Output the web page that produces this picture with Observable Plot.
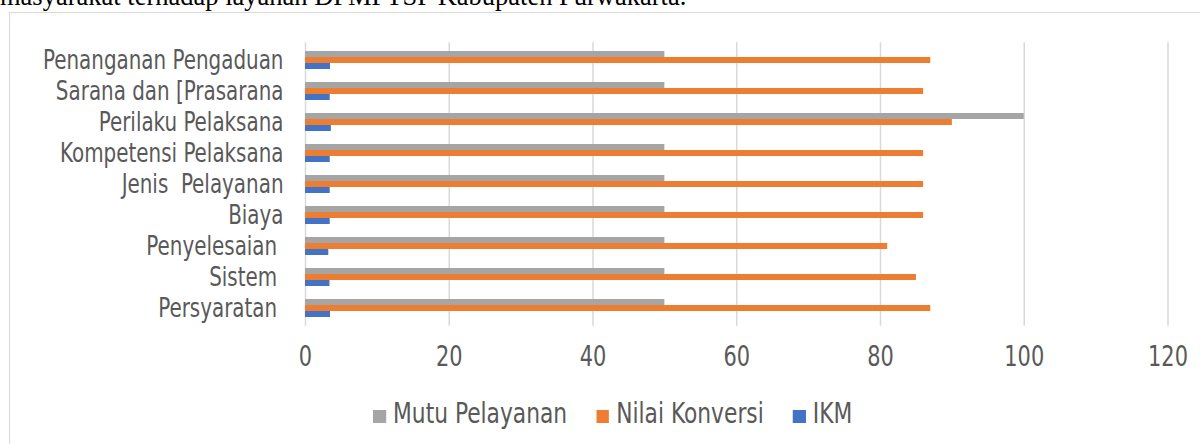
<!DOCTYPE html>
<html>
<head>
<meta charset="utf-8">
<script src="https://cdn.jsdelivr.net/npm/d3@7"></script>
<script src="https://cdn.jsdelivr.net/npm/@observablehq/plot@0.6"></script>
<style>
  html, body { margin: 0; padding: 0; background: #fff; width: 1200px; height: 444px; overflow: hidden; }
  #wrap { position: relative; width: 1200px; height: 444px; overflow: hidden; }
  #intro { position: absolute; left: 0; top: -17px; line-height: 1; font-family: "Liberation Serif", serif; font-size: 26.5px; color: #000; white-space: nowrap; }
  #frame { position: absolute; left: 9px; top: 12px; width: 1400px; height: 600px; border-left: 1.5px solid #d9d9d9; border-top: 1.5px solid #d9d9d9; }
  #chart { position: absolute; left: 0; top: 0; }
  #chart svg text { white-space: pre; }
  #legend { position: absolute; left: 373px; top: 397px; display: flex; align-items: baseline; font-family: "DejaVu Sans Condensed", sans-serif; font-size: 27.5px; color: #595959; white-space: nowrap; transform: scaleX(0.88); transform-origin: 0 0; }
  .item { display: flex; align-items: baseline; margin-right: 33px; }
  .sw { display: inline-block; width: 14.8px; height: 13px; margin-right: 8px; }
</style>
</head>
<body>
<div id="wrap">
  <div id="intro">masyarakat terhadap layanan DPMPTSP Kabupaten Purwakarta.</div>
  <div id="frame"></div>
  <div id="chart"></div>
  <div id="legend"></div>
</div>
<script>
// Categories listed top to bottom as in the chart
const categories = ["Penanganan Pengaduan", "Sarana dan [Prasarana", "Perilaku Pelaksana", "Kompetensi Pelaksana", "Jenis  Pelayanan", "Biaya", "Penyelesaian ", "Sistem ", "Persyaratan "];
const mutuPelayanan = [50, 50, 100, 50, 50, 50, 50, 50, 50];
const nilaiKonversi = [87, 86, 90, 86, 86, 86, 81, 85, 87];
const ikm = [3.48, 3.44, 3.6, 3.44, 3.44, 3.44, 3.24, 3.4, 3.48];
const xTicks = [0, 20, 40, 60, 80, 100, 120];
const seriesNames = ["Mutu Pelayanan", "Nilai Konversi", "IKM"];
const seriesColors = ["#a5a5a5", "#ed7d31", "#4472c4"];

const rows = categories.map((c, i) => ({cat: c, mutu: mutuPelayanan[i], nilai: nilaiKonversi[i], ikm: ikm[i]}));

const chart = Plot.plot({
  width: 1200,
  height: 380,
  marginLeft: 305,
  marginRight: 32.5,
  marginTop: 42.3,
  marginBottom: 54.2,
  style: { fontFamily: "'DejaVu Sans Condensed', sans-serif", color: "#595959", background: "transparent" },
  x: { domain: [0, 120] },
  y: { domain: categories, paddingInner: 0.43, paddingOuter: 0.215 },
  marks: [
    Plot.ruleX(xTicks, { stroke: "#d9d9d9", strokeWidth: 1.5 }),
    Plot.barX(rows, { x: "mutu", y: "cat", fill: seriesColors[0], insetTop: 0, insetBottom: 12 }),
    Plot.barX(rows, { x: "nilai", y: "cat", fill: seriesColors[1], insetTop: 6, insetBottom: 6 }),
    Plot.barX(rows, { x: "ikm", y: "cat", fill: seriesColors[2], insetTop: 12, insetBottom: 0 }),
    Plot.axisX({ ticks: xTicks, tickSize: 0, tickPadding: 19, fontSize: 29, label: null, fill: "#595959" }),
    Plot.axisY({ tickSize: 0, tickPadding: 22, fontSize: 27, label: null, fill: "#595959" })
  ]
});
document.getElementById("chart").appendChild(chart);

// Narrow the glyphs horizontally (the reference uses a condensed face), keeping each label's anchor fixed
function condense(which, s) {
  chart.querySelectorAll("g[aria-label]").forEach(g => {
    const lab = g.getAttribute("aria-label");
    if (!lab.startsWith(which) || !lab.includes("tick label")) return;
    g.querySelectorAll("text").forEach(el => {
      const n = el.getNumberOfChars();
      if (!n) return;
      const x0 = el.getStartPositionOfChar(0).x;
      const x1 = el.getEndPositionOfChar(n - 1).x;
      const anchor = getComputedStyle(el).textAnchor;
      const px = anchor === "end" ? x1 : anchor === "middle" ? (x0 + x1) / 2 : x0;
      const py = el.getStartPositionOfChar(0).y;
      const t = el.getAttribute("transform") || "";
      el.setAttribute("transform", `${t} translate(${px},${py}) scale(${s},1) translate(${-px},${-py})`);
    });
  });
}
condense("x-axis", 0.8);
condense("y-axis", 0.82);

const legend = document.getElementById("legend");
seriesNames.forEach((name, i) => {
  const item = document.createElement("div");
  item.className = "item";
  const sw = document.createElement("span");
  sw.className = "sw";
  sw.style.background = seriesColors[i];
  const t = document.createElement("span");
  t.textContent = name;
  item.appendChild(sw);
  item.appendChild(t);
  legend.appendChild(item);
});
</script>
</body>
</html>
